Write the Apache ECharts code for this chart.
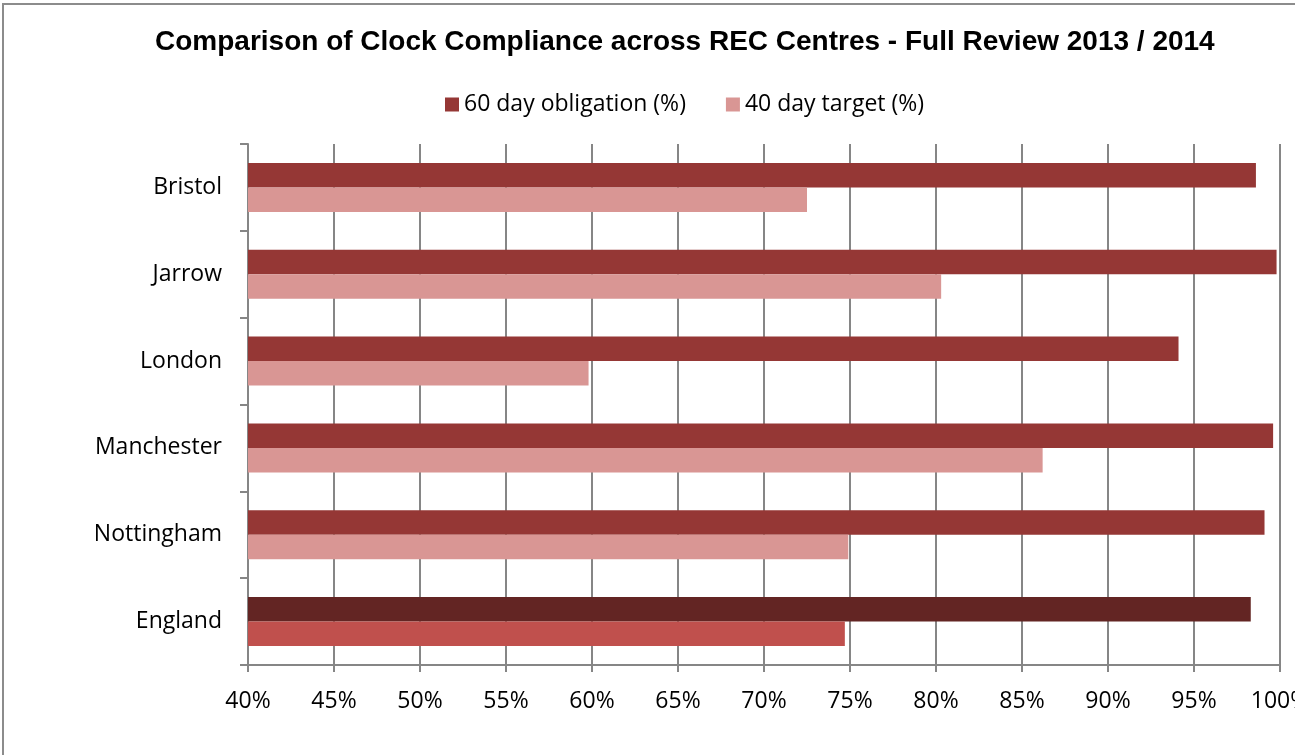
<!DOCTYPE html>
<html>
<head>
<meta charset="utf-8">
<title>Clock Compliance</title>
<script src="https://cdn.jsdelivr.net/npm/echarts@6/dist/echarts.min.js"></script>
<style>
  html, body { margin: 0; padding: 0; background: #fff; }
  #chart { position: absolute; left: 0; top: 0; width: 1295px; height: 755px; }
  #frame { position: absolute; left: 2px; top: 3px; width: 1300px; height: 760px;
    border-top: 2px solid #8c8c8c; border-left: 2px solid #8c8c8c; pointer-events: none; }
</style>
</head>
<body>
<div id="chart"></div>
<div id="frame"></div>
<script>
// data
const centres = ['Bristol', 'Jarrow', 'London', 'Manchester', 'Nottingham', 'England']
const obligation60 = [98.6, 99.8, 94.1, 99.6, 99.1, 98.3]
const target40 = [72.5, 80.3, 59.8, 86.2, 74.9, 74.7]
const seriesNames = ['60 day obligation (%)', '40 day target (%)']

const labelFont = 'Open Sans'
const axisGrey = '#868686'

// England row is highlighted in other shades
function withHighlight(values, colour) {
  return values.map((v, i) => centres[i] === 'England'
    ? { value: v, itemStyle: { color: colour } }
    : v)
}

const chart = echarts.init(document.getElementById('chart'), null, { renderer: 'canvas' })
chart.setOption({
  animation: false,
  title: {
    text: 'Comparison of Clock Compliance across REC Centres - Full Review 2013 / 2014',
    left: 150,
    top: 23,
    textStyle: {
      fontFamily: 'Liberation Sans',
      fontWeight: 'bold',
      fontSize: 28,
      color: '#000'
    }
  },
  legend: {
    data: seriesNames,
    top: 88,
    left: 440,
    itemWidth: 14,
    itemHeight: 14,
    itemGap: 40,
    icon: 'rect',
    textStyle: { fontFamily: labelFont, fontSize: 23, color: '#000' }
  },
  grid: {
    left: 248,
    right: 15,
    top: 144,
    bottom: 90,
    outerBoundsMode: 'none'
  },
  xAxis: {
    type: 'value',
    min: 40,
    max: 100,
    interval: 5,
    axisLine: { show: true, lineStyle: { color: axisGrey, width: 2 } },
    axisTick: { show: true, length: 7, lineStyle: { color: axisGrey, width: 2 } },
    splitLine: { show: true, lineStyle: { color: axisGrey, width: 2 } },
    axisLabel: {
      formatter: '{value}%',
      margin: 25,
      fontFamily: labelFont,
      fontSize: 23,
      color: '#000'
    }
  },
  yAxis: {
    type: 'category',
    data: centres,
    inverse: true,
    axisLine: { show: true, lineStyle: { color: axisGrey, width: 2 } },
    axisTick: { show: true, length: 8, lineStyle: { color: axisGrey, width: 2 } },
    axisLabel: {
      margin: 26,
      fontFamily: labelFont,
      fontSize: 23,
      color: '#000'
    }
  },
  series: [{
    name: seriesNames[0],
    type: 'bar',
    data: withHighlight(obligation60, '#632523'),
    itemStyle: { color: '#953735' },
    barGap: '0%',
    barCategoryGap: '43.5%'
  }, {
    name: seriesNames[1],
    type: 'bar',
    data: withHighlight(target40, '#C0504D'),
    itemStyle: { color: '#D99694' },
    barGap: '0%',
    barCategoryGap: '43.5%'
  }]
})
</script>
</body>
</html>
